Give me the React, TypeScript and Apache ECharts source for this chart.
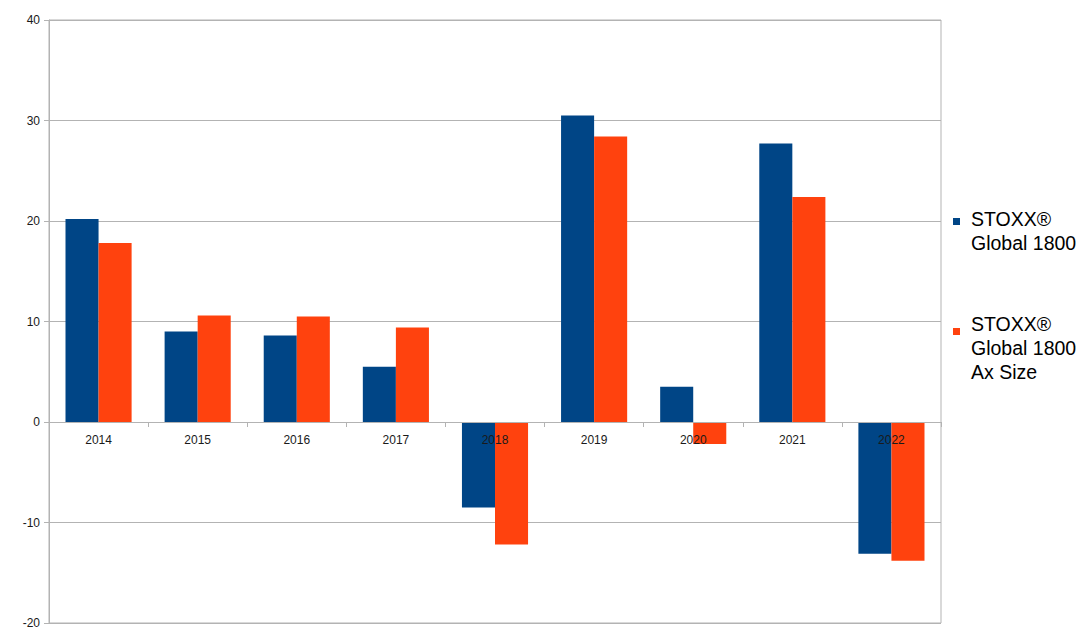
import React, { useEffect, useRef } from "react";
import * as echarts from "echarts";

const years = ["2014", "2015", "2016", "2017", "2018", "2019", "2020", "2021", "2022"];
const global1800 = [20.2, 9.0, 8.6, 5.5, -8.5, 30.5, 3.5, 27.7, -13.1];
const global1800AxSize = [17.8, 10.6, 10.5, 9.4, -12.2, 28.4, -2.2, 22.4, -13.8];
const seriesNames = ["STOXX®\nGlobal 1800", "STOXX®\nGlobal 1800\nAx Size"];
const colors = ["#004586", "#ff420e"];
const yMin = -20;
const yMax = 40;

export default function App() {
  const ref = useRef<HTMLDivElement>(null);
  useEffect(() => {
    if (!ref.current) return;
    const chart = echarts.init(ref.current, null, { renderer: "svg" });
    const font = "'Liberation Sans', Arial, sans-serif";
    const gridTop = 20;
    const gridBottom = 21;
    const gridHeight = 644 - gridTop - gridBottom;
    // place the category axis (line, ticks and labels) on the zero line
    const zeroOffset = -Math.round((gridHeight * (0 - yMin)) / (yMax - yMin));
    chart.setOption({
      animation: false,
      backgroundColor: "#ffffff",
      textStyle: { fontFamily: font },
      grid: {
        left: 49,
        right: 149,
        top: gridTop,
        bottom: gridBottom,
        show: true,
        borderColor: "#b3b3b3",
        borderWidth: 1,
        containLabel: false,
      },
      xAxis: {
        type: "category",
        data: years,
        z: 10,
        position: "bottom",
        offset: zeroOffset,
        axisLine: { onZero: false, lineStyle: { color: "#b3b3b3", width: 1 } },
        axisTick: { show: true, length: 5, lineStyle: { color: "#b3b3b3" } },
        axisLabel: { color: "#1a1a1a", fontSize: 12, margin: 12, fontFamily: font },
        splitLine: { show: false },
      },
      yAxis: {
        type: "value",
        min: yMin,
        max: yMax,
        interval: 10,
        axisLine: { show: true, lineStyle: { color: "#b3b3b3", width: 1 } },
        axisTick: { show: true, length: 5, lineStyle: { color: "#b3b3b3" } },
        axisLabel: { color: "#1a1a1a", fontSize: 12, margin: 9, fontFamily: font },
        splitLine: { show: true, lineStyle: { color: "#b3b3b3", width: 1 } },
      },
      series: [
        {
          name: seriesNames[0],
          type: "bar",
          data: global1800,
          itemStyle: { color: colors[0] },
          barGap: "0%",
          barCategoryGap: "33.3%",
        },
        {
          name: seriesNames[1],
          type: "bar",
          data: global1800AxSize,
          itemStyle: { color: colors[1] },
          barGap: "0%",
          barCategoryGap: "33.3%",
        },
      ],
      graphic: [
        { type: "rect", left: 953, top: 218, shape: { width: 7, height: 7 }, style: { fill: colors[0] } },
        {
          type: "text",
          left: 971,
          top: 207,
          style: { text: seriesNames[0], font: `19.5px ${font}`, lineHeight: 24, fill: "#000" },
        },
        { type: "rect", left: 953, top: 328, shape: { width: 7, height: 7 }, style: { fill: colors[1] } },
        {
          type: "text",
          left: 971,
          top: 312,
          style: { text: seriesNames[1], font: `19.5px ${font}`, lineHeight: 24, fill: "#000" },
        },
      ],
    });
    return () => chart.dispose();
  }, []);
  return (
    <div
      ref={ref}
      style={{ position: "absolute", left: 0, top: 0, width: 1090, height: 644 }}
    />
  );
}
